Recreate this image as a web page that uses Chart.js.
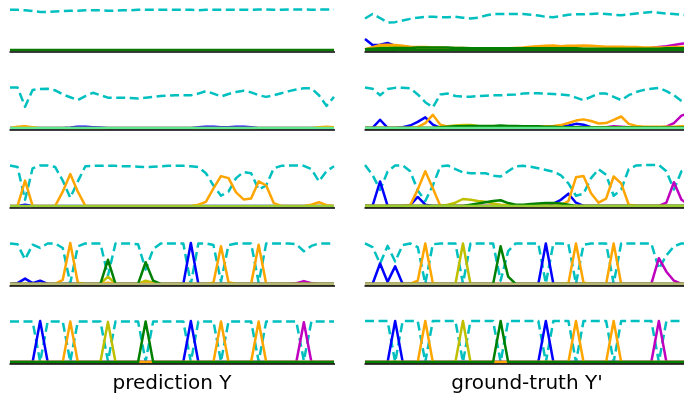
<!DOCTYPE html>
<html lang="en">
<head>
<meta charset="UTF-8">
<title>prediction vs ground truth</title>
<style>
  html, body { margin: 0; padding: 0; background: #fff; overflow: hidden; }
  #wrap { position: relative; width: 684px; height: 394px; overflow: hidden; }
  #wrap canvas { position: absolute; }
  .label { position: absolute; top: 372px; width: 324px; text-align: center;
           font: 20px "DejaVu Sans", sans-serif; line-height: 20px; color: #000; }
</style>
</head>
<body>
<div id="wrap">
  <canvas id="p1" width="344" height="60" style="left:0;top:2px"></canvas>
  <canvas id="g1" width="344" height="60" style="left:355px;top:2px"></canvas>
  <canvas id="p2" width="344" height="60" style="left:0;top:80px"></canvas>
  <canvas id="g2" width="344" height="60" style="left:355px;top:80px"></canvas>
  <canvas id="p3" width="344" height="60" style="left:0;top:158px"></canvas>
  <canvas id="g3" width="344" height="60" style="left:355px;top:158px"></canvas>
  <canvas id="p4" width="344" height="60" style="left:0;top:236px"></canvas>
  <canvas id="g4" width="344" height="60" style="left:355px;top:236px"></canvas>
  <canvas id="p5" width="344" height="60" style="left:0;top:314px"></canvas>
  <canvas id="g5" width="344" height="60" style="left:355px;top:314px"></canvas>
  <div class="label" style="left:10px">prediction Y</div>
  <div class="label" style="left:365px">ground-truth Y'</div>
</div>

<script src="https://cdn.jsdelivr.net/npm/chart.js"></script>
<script>
// time steps
const frames = [0,1,2,3,4,5,6,7,8,9,10, 11,12,13,14,15,16,17,18,19,20,21, 22,23,24,25,26,27,28,29,30,31,32, 33,34,35,36,37,38,39,40,41,42,43];
const zeros = [0,0,0,0,0,0,0,0,0,0,0, 0,0,0,0,0,0,0,0,0,0,0, 0,0,0,0,0,0,0,0,0,0,0, 0,0,0,0,0,0,0,0,0,0,0];

// row 1
const cyanP1 = [0.98,0.98,0.97,0.95,0.93,0.93,0.94,0.95,0.96,0.96,0.97, 0.97,0.97,0.96,0.96,0.97,0.97,0.98,0.98,0.98,0.98,0.98, 0.98,0.98,0.98,0.97,0.98,0.98,0.98,0.98,0.98,0.98,0.98, 0.99,0.99,0.98,0.98,0.99,0.99,0.99,0.98,0.99,0.99,0.99];
const cyanG1 = [0.77,0.88,0.78,0.67,0.68,0.72,0.76,0.79,0.81,0.81,0.80, 0.80,0.81,0.79,0.77,0.79,0.84,0.88,0.88,0.88,0.88,0.88, 0.86,0.84,0.81,0.80,0.83,0.86,0.87,0.87,0.88,0.89,0.88, 0.86,0.85,0.87,0.89,0.91,0.93,0.91,0.89,0.88,0.86,0.85];
const blueG1 = [0.27,0.12,0.13,0.17,0.10,0.06,0.05,0.04,0.04,0.03,0.03, 0.03,0.03,0.03,0.03,0.03,0.02,0.02,0.02,0.02,0.02,0.02, 0.02,0.02,0.02,0.02,0.02,0.02,0.02,0.02,0.02,0.02,0.02, 0.02,0.02,0.02,0.02,0.02,0.02,0.02,0.02,0.02,0.02,0.02];
const magentaG1 = [0,0,0,0,0,0.01,0.01,0.01,0.01,0.01,0.01, 0.01,0.01,0.01,0.01,0.01,0.01,0.01,0.01,0.01,0.01,0.01, 0.01,0.01,0.01,0.01,0.01,0.01,0.02,0.02,0.02,0.02,0.02, 0.02,0.02,0.02,0.02,0.03,0.05,0.07,0.09,0.12,0.15,0.17];
const yellowG1 = [0.01,0.04,0.07,0.08,0.07,0.06,0.05,0.05,0.05,0.04,0.04, 0.04,0.04,0.04,0.04,0.03,0.03,0.03,0.03,0.03,0.03,0.03, 0.03,0.03,0.03,0.03,0.03,0.03,0.03,0.03,0.03,0.03,0.03, 0.03,0.03,0.03,0.03,0.03,0.03,0.03,0.03,0.03,0.03,0.03];
const orangeG1 = [0.02,0.07,0.12,0.13,0.12,0.10,0.08,0.07,0.07,0.06,0.06, 0.05,0.05,0.05,0.04,0.04,0.04,0.04,0.04,0.04,0.05,0.06, 0.08,0.09,0.10,0.11,0.09,0.10,0.10,0.11,0.10,0.09,0.08, 0.08,0.08,0.07,0.07,0.06,0.06,0.06,0.06,0.07,0.07,0.07];
const greenG1 = [0.02,0.03,0.04,0.04,0.05,0.05,0.05,0.06,0.06,0.06,0.06, 0.06,0.05,0.05,0.04,0.04,0.04,0.04,0.04,0.04,0.04,0.04, 0.04,0.04,0.04,0.04,0.04,0.04,0.04,0.03,0.03,0.03,0.03, 0.03,0.03,0.03,0.03,0.03,0.03,0.03,0.04,0.04,0.04,0.04];

// row 2
const cyanP2 = [0.99,0.99,0.52,0.93,0.95,0.96,0.92,0.82,0.75,0.68,0.78, 0.86,0.80,0.74,0.74,0.74,0.73,0.72,0.74,0.76,0.78,0.79, 0.80,0.80,0.80,0.84,0.90,0.84,0.77,0.83,0.88,0.91,0.87, 0.80,0.76,0.80,0.85,0.90,0.94,0.97,0.97,0.80,0.54,0.76];
const blueP2 = [0,0,0,0,0,0,0,0,0.01,0.03,0.03, 0.02,0.01,0,0,0,0,0,0,0,0,0, 0,0,0,0.02,0.03,0.03,0.02,0.02,0.03,0.03,0.02, 0,0,0,0,0,0,0,0,0,0,0];
const orangeP2 = [0,0.03,0.04,0.02,0,0,0,0,0,0,0, 0,0,0,0,0,0,0,0,0,0,0, 0,0,0,0,0,0,0,0,0,0,0, 0,0,0,0,0,0,0,0,0.02,0.03,0.02];
const cyanG2 = [0.99,0.96,0.80,0.95,0.98,0.98,0.97,0.82,0.63,0.50,0.82, 0.84,0.78,0.77,0.76,0.78,0.79,0.80,0.80,0.81,0.82,0.84, 0.85,0.85,0.84,0.83,0.82,0.80,0.74,0.68,0.76,0.84,0.84, 0.76,0.68,0.80,0.88,0.93,0.96,0.98,0.90,0.80,0.66,0.58];
const blueG2 = [0,0,0.20,0,0,0.02,0.06,0.15,0.26,0.08,0, 0.01,0.01,0.01,0.01,0.01,0.01,0.01,0.02,0.02,0.02,0.02, 0.02,0.02,0.02,0.02,0.03,0.06,0.10,0.08,0.02,0.01,0.01, 0.01,0.01,0.01,0.01,0.01,0.01,0.01,0.01,0.01,0.01,0.01];
const magentaG2 = [0,0,0,0,0,0,0,0,0,0,0, 0,0,0,0,0,0,0,0,0,0,0, 0,0,0,0,0,0,0,0,0,0,0.02, 0.04,0.03,0.02,0.01,0.01,0.01,0.01,0.03,0.12,0.30,0.36];
const yellowG2 = [0,0,0,0,0,0,0,0,0,0,0.02, 0.04,0.06,0.07,0.07,0.05,0.04,0.03,0.03,0.02,0.02,0.02, 0.02,0.01,0.01,0.01,0.01,0.01,0.01,0.01,0.01,0.01,0.01, 0.01,0.01,0.01,0.01,0.01,0.01,0.01,0.01,0.01,0.01,0.01];
const orangeG2 = [0,0,0,0,0,0,0,0.02,0.12,0.32,0.08, 0.03,0.03,0.03,0.03,0.03,0.03,0.03,0.03,0.03,0.03,0.03, 0.03,0.03,0.04,0.05,0.07,0.12,0.18,0.21,0.17,0.11,0.12, 0.20,0.28,0.10,0.05,0.03,0.03,0.03,0.03,0.03,0.04,0.05];
const greenG2 = [0,0,0,0,0,0,0,0,0,0,0.02, 0.03,0.04,0.04,0.05,0.05,0.05,0.05,0.06,0.05,0.05,0.04, 0.04,0.04,0.03,0.03,0.02,0.02,0.02,0.01,0.01,0.01,0.01, 0.01,0.01,0.01,0.01,0.01,0.01,0.01,0.01,0.01,0.01,0.01];

// row 3
const cyanP3 = [0.99,0.95,0.15,0.92,0.99,0.99,0.95,0.62,0.20,0.60,0.97, 0.98,0.98,0.98,0.98,0.97,0.97,0.96,0.95,0.96,0.97,0.98, 0.98,0.98,0.97,0.95,0.80,0.50,0.25,0.35,0.68,0.83,0.80, 0.40,0.50,0.92,0.98,0.99,0.99,0.98,0.90,0.60,0.85,0.97];
const blueP3 = [0,0,0.03,0,0,0,0,0,0,0,0, 0,0,0,0,0,0,0,0,0,0,0, 0,0,0,0,0,0,0,0,0,0,0, 0,0,0,0,0,0,0,0,0,0,0];
const orangeP3 = [0,0,0.62,0,0,0,0,0.35,0.78,0.35,0, 0,0,0,0,0,0,0,0,0,0,0, 0,0,0,0.03,0.10,0.43,0.73,0.68,0.33,0.16,0.18, 0.60,0.50,0.07,0,0,0,0,0.03,0.09,0.02,0];
const cyanG3 = [1.00,0.76,0.39,0.84,0.99,0.99,0.85,0.38,0.12,0.50,0.97, 0.99,0.90,0.82,0.80,0.80,0.80,0.74,0.72,0.85,0.97,0.98, 0.96,0.92,0.88,0.84,0.75,0.55,0.25,0.30,0.68,0.90,0.76, 0.25,0.40,0.90,0.99,1.00,1.00,1.00,0.85,0.40,0.85,0.97];
const blueG3 = [0,0,0.60,0,0,0,0.02,0.22,0.03,0,0, 0,0,0,0,0,0,0,0,0,0,0, 0.01,0.02,0.03,0.06,0.15,0.30,0.08,0,0,0,0, 0,0,0,0,0,0,0,0,0,0,0];
const magentaG3 = [0,0,0,0,0,0,0,0,0,0,0, 0,0,0,0,0,0,0,0,0,0,0, 0,0,0,0,0,0,0,0,0,0,0, 0,0,0,0,0,0,0,0.08,0.58,0.15,0.03];
const yellowG3 = [0,0,0,0,0,0,0,0,0,0,0, 0.03,0.08,0.17,0.15,0.12,0.10,0.06,0.03,0.02,0.01,0.01, 0.01,0.01,0.01,0,0,0,0,0,0,0,0, 0,0,0,0,0,0,0,0,0,0,0];
const orangeG3 = [0,0,0,0,0,0,0.02,0.40,0.85,0.43,0, 0,0,0,0,0,0,0,0,0,0,0, 0,0,0,0,0.02,0.12,0.70,0.73,0.31,0.08,0.18, 0.72,0.55,0.03,0,0,0,0,0,0,0,0];
const greenG3 = [0,0,0,0,0,0,0,0,0,0,0, 0,0,0,0.03,0.06,0.09,0.12,0.14,0.07,0.03,0.03, 0.05,0.06,0.07,0.07,0.06,0.03,0,0,0,0,0, 0,0,0,0,0,0,0,0,0,0,0];

// row 4
const cyanP4 = [0.99,0.97,0.60,0.96,0.88,0.99,0.99,0.88,0.02,0.92,0.99, 0.99,0.99,0.20,0.99,0.99,0.99,0.97,0.35,0.85,0.99,0.99, 0.99,0.99,0.00,0.99,0.99,0.95,0.06,0.95,0.99,0.99,0.99, 0.03,0.99,0.99,0.99,0.99,0.97,0.80,0.93,0.99,0.99,0.99];
const blueP4 = [0,0.02,0.13,0.02,0.08,0,0,0,0,0,0, 0,0,0,0,0,0,0,0,0,0,0, 0,0,1.00,0,0,0,0,0,0,0,0, 0,0,0,0,0,0,0,0,0,0,0];
const magentaP4 = [0,0,0,0,0,0,0,0,0,0,0, 0,0,0,0,0,0,0,0,0,0,0, 0,0,0,0,0,0,0,0,0,0,0, 0,0,0,0,0,0.02,0.07,0.02,0,0,0];
const yellowP4 = [0,0,0,0,0,0,0,0,0,0,0, 0,0,0.18,0,0,0,0,0.08,0.03,0,0, 0,0,0,0,0,0,0,0,0,0,0, 0,0,0,0,0,0,0,0,0,0,0];
const orangeP4 = [0,0,0,0,0,0,0,0.10,1.00,0.03,0, 0,0,0.03,0,0,0,0,0.02,0.01,0,0, 0,0,0,0,0,0.03,0.92,0.04,0,0,0, 0.96,0,0,0,0,0,0,0,0,0,0];
const greenP4 = [0,0,0,0,0,0,0,0,0,0,0, 0,0,0.59,0,0,0,0,0.53,0.08,0,0, 0,0,0,0,0,0,0,0,0,0,0, 0,0,0,0,0,0,0,0,0,0,0];
const cyanG4 = [0.99,0.90,0.50,0.93,0.55,0.95,0.99,0.90,0.01,0.97,0.99, 0.99,0.99,0.01,0.99,0.99,0.99,0.99,0.08,0.80,0.99,0.99, 0.99,0.99,0.01,0.99,0.99,0.97,0.01,0.96,0.99,0.99,0.99, 0.01,0.99,0.99,0.99,0.99,0.99,0.37,0.70,0.92,0.99,0.99];
const blueG4 = [0,0,0.50,0.05,0.43,0,0,0,0,0,0, 0,0,0,0,0,0,0,0,0,0,0, 0,0,0.99,0,0,0,0,0,0,0,0, 0,0,0,0,0,0,0,0,0,0,0];
const magentaG4 = [0,0,0,0,0,0,0,0,0,0,0, 0,0,0,0,0,0,0,0,0,0,0, 0,0,0,0,0,0,0,0,0,0,0, 0,0,0,0,0,0,0.63,0.30,0.08,0,0];
const yellowG4 = [0,0,0,0,0,0,0,0,0,0,0, 0,0,0.99,0,0,0,0,0,0,0,0, 0,0,0,0,0,0,0,0,0,0,0, 0,0,0,0,0,0,0,0,0,0,0];
const orangeG4 = [0,0,0,0,0,0,0,0.08,0.99,0.02,0, 0,0,0,0,0,0,0,0,0,0,0, 0,0,0,0,0,0.02,0.99,0.03,0,0,0, 0.99,0,0,0,0,0,0,0,0,0,0];
const greenG4 = [0,0,0,0,0,0,0,0,0,0,0, 0,0,0,0,0,0,0,0.92,0.18,0,0, 0,0,0,0,0,0,0,0,0,0,0, 0,0,0,0,0,0,0,0,0,0,0];

// row 5
const cyanP5 = [0.99,0.99,0.99,0.99,0.00,0.99,0.99,0.99,0.01,0.99,0.99, 0.99,0.99,0.02,0.99,0.99,0.99,0.99,0.01,0.99,0.99,0.99, 0.99,0.99,0.00,0.99,0.99,0.99,0.01,0.99,0.99,0.99,0.99, 0.01,0.99,0.99,0.99,0.99,0.99,0.03,0.99,0.99,0.99,0.99];
const blueP5 = [0,0,0,0,1.00,0,0,0,0,0,0, 0,0,0,0,0,0,0,0,0,0,0, 0,0,1.00,0,0,0,0,0,0,0,0, 0,0,0,0,0,0,0,0,0,0,0];
const magentaP5 = [0,0,0,0,0,0,0,0,0,0,0, 0,0,0,0,0,0,0,0,0,0,0, 0,0,0,0,0,0,0,0,0,0,0, 0,0,0,0,0,0,0.97,0,0,0,0];
const yellowP5 = [0,0,0,0,0,0,0,0,0,0,0, 0,0,0.98,0,0,0,0,0,0,0,0, 0,0,0,0,0,0,0,0,0,0,0, 0,0,0,0,0,0,0,0,0,0,0];
const orangeP5 = [0,0,0,0,0,0,0,0,0.99,0,0, 0,0,0,0,0,0,0,0,0,0,0, 0,0,0,0,0,0,0.99,0,0,0,0, 0.99,0,0,0,0,0,0,0,0,0,0];
const greenP5 = [0,0,0,0,0,0,0,0,0,0,0, 0,0,0,0,0,0,0,0.99,0,0,0, 0,0,0,0,0,0,0,0,0,0,0, 0,0,0,0,0,0,0,0,0,0,0];
const cyanG5 = [1,1,1,1,0,1,1,1,0,1,1, 1,1,0,1,1,1,1,0,1,1,1, 1,1,0,1,1,1,0,1,1,1,1, 0,1,1,1,1,1,0,1,1,1,1];
const blueG5 = [0,0,0,0,1,0,0,0,0,0,0, 0,0,0,0,0,0,0,0,0,0,0, 0,0,1,0,0,0,0,0,0,0,0, 0,0,0,0,0,0,0,0,0,0,0];
const magentaG5 = [0,0,0,0,0,0,0,0,0,0,0, 0,0,0,0,0,0,0,0,0,0,0, 0,0,0,0,0,0,0,0,0,0,0, 0,0,0,0,0,0,1,0,0,0,0];
const yellowG5 = [0,0,0,0,0,0,0,0,0,0,0, 0,0,1,0,0,0,0,0,0,0,0, 0,0,0,0,0,0,0,0,0,0,0, 0,0,0,0,0,0,0,0,0,0,0];
const orangeG5 = [0,0,0,0,0,0,0,0,1,0,0, 0,0,0,0,0,0,0,0,0,0,0, 0,0,0,0,0,0,1,0,0,0,0, 1,0,0,0,0,0,0,0,0,0,0];
const greenG5 = [0,0,0,0,0,0,0,0,0,0,0, 0,0,0,0,0,0,0,1,0,0,0, 0,0,0,0,0,0,0,0,0,0,0, 0,0,0,0,0,0,0,0,0,0,0];

// bottom spine of each panel, like a matplotlib axis line
const spine = {
  id: 'spine',
  afterDatasetsDraw(chart) {
    const { ctx, chartArea } = chart;
    ctx.save();
    ctx.strokeStyle = '#000';
    ctx.lineWidth = 1.6;
    ctx.beginPath();
    ctx.moveTo(chartArea.left - 0.5, chartArea.bottom);
    ctx.lineTo(chartArea.right + 1, chartArea.bottom);
    ctx.stroke();
    ctx.restore();
  }
};

// order: larger values are painted first, so the last series in a panel ends on top
function line(values, color, order, dashed) {
  return {
    data: values.slice(),
    borderColor: color,
    borderWidth: 2.5,
    borderDash: dashed ? [9, 4.5] : [],
    borderJoinStyle: 'round',
    pointRadius: 0,
    tension: 0,
    fill: false,
    order: order
  };
}

// series listed bottom to top; null means the class never shows in that panel
function panel(id, blank, blue, magenta, yellow, orange, green, rest) {
  const specs = [
    [blank, '#00bfbf', true],
    [blue, '#0000ff'],
    [magenta, '#bf00bf'],
    [yellow, '#bfbf00'],
    [orange, '#ffa500'],
    [green, '#008000']
  ];
  if (rest) specs.push([zeros, rest]);
  const sets = [];
  specs.forEach(([vals, color, dashed], k) => {
    if (vals) sets.push(line(vals, color, 10 - k, dashed));
  });
  new Chart(document.getElementById(id), {
    type: 'line',
    data: { labels: frames, datasets: sets },
    options: {
      responsive: false,
      animation: false,
      events: [],
      layout: { padding: { left: 10, right: 10, top: 5, bottom: 10 } },
      plugins: { legend: { display: false }, tooltip: { enabled: false } },
      scales: {
        x: { display: false },
        y: { display: false, min: -0.05, max: 1.05 }
      }
    },
    plugins: [spine]
  });
}

panel('p1', cyanP1, null, null, null, null, null, '#0b7a05');
panel('g1', cyanG1, blueG1, magentaG1, yellowG1, orangeG1, greenG1, '#0b7a05');
panel('p2', cyanP2, blueP2, null, null, orangeP2, null, '#5fe890');
panel('g2', cyanG2, blueG2, magentaG2, yellowG2, orangeG2, greenG2, '#5fe890');
panel('p3', cyanP3, blueP3, null, null, orangeP3, null, '#9acd32');
panel('g3', cyanG3, blueG3, magentaG3, yellowG3, orangeG3, greenG3, '#9acd32');
panel('p4', cyanP4, blueP4, magentaP4, yellowP4, orangeP4, greenP4, '#b4b978');
panel('g4', cyanG4, blueG4, magentaG4, yellowG4, orangeG4, greenG4, '#b4b978');
panel('p5', cyanP5, blueP5, magentaP5, yellowP5, orangeP5, greenP5, null);
panel('g5', cyanG5, blueG5, magentaG5, yellowG5, orangeG5, greenG5, null);
</script>
</body>
</html>
